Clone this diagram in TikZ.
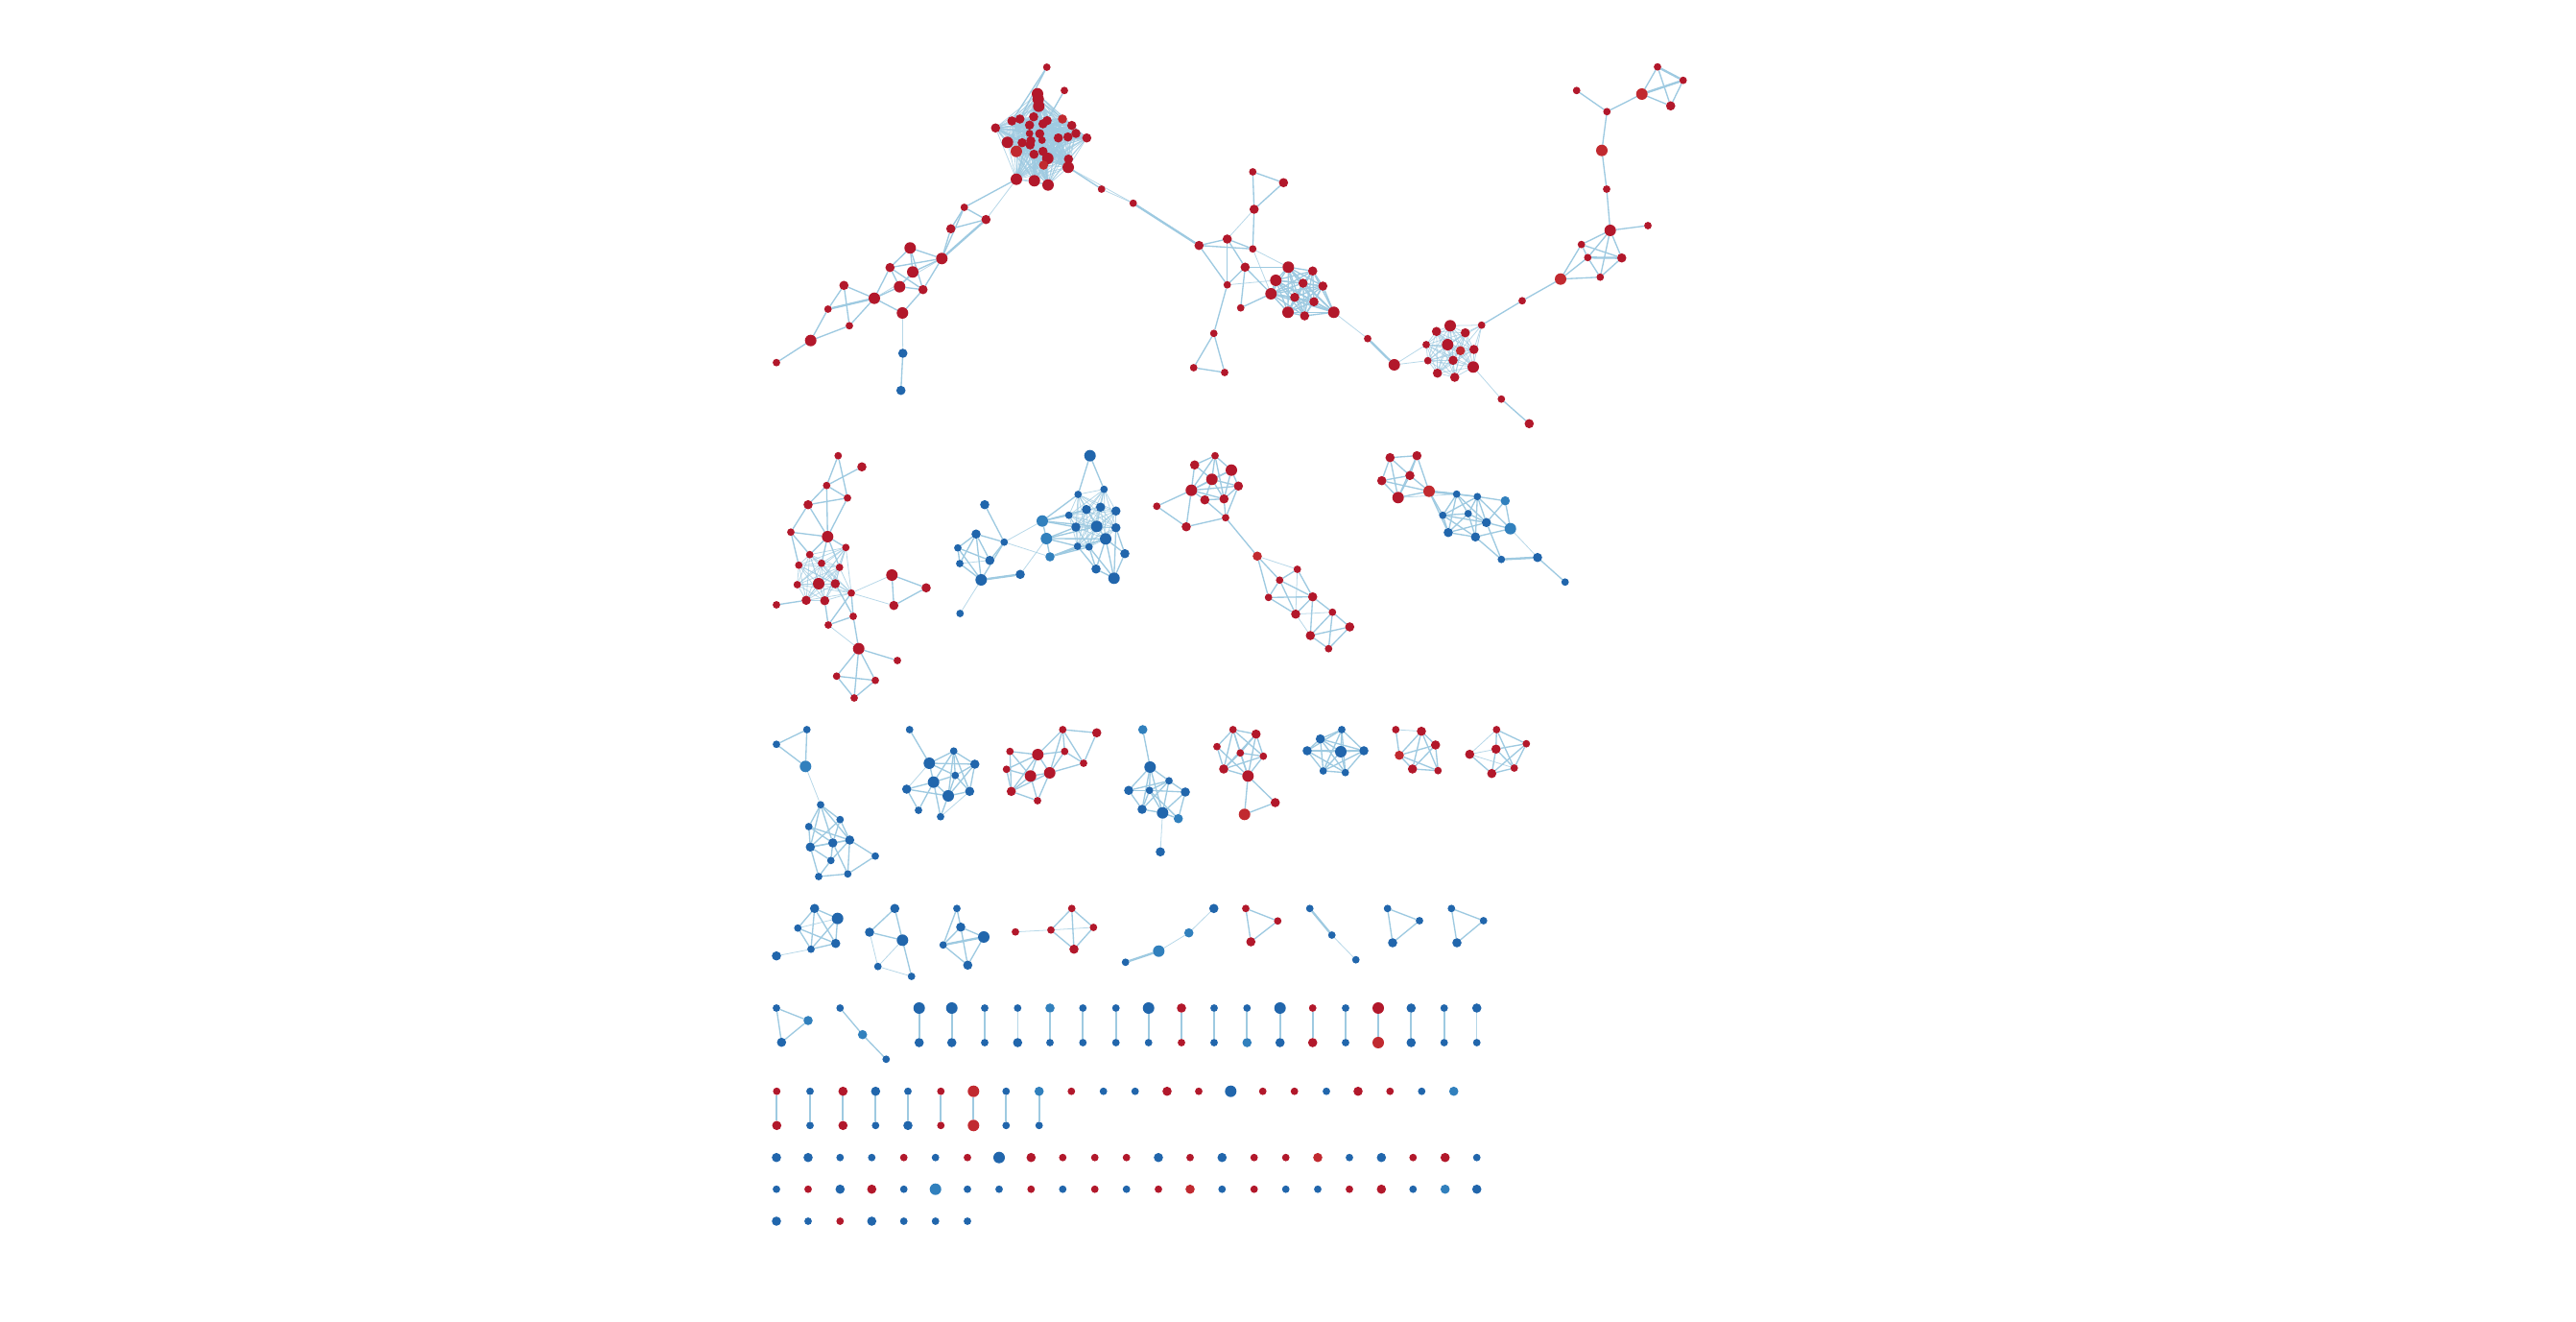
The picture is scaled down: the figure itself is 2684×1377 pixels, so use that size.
\documentclass[tikz,border=0pt]{standalone}
\usetikzlibrary{backgrounds}
\pgfdeclarelayer{bottom}
\pgfsetlayers{bottom,background,main}
\definecolor{cR}{RGB}{178,24,43}
\definecolor{cRl}{RGB}{193,42,48}
\definecolor{cB}{RGB}{33,102,172}
\definecolor{cBl}{RGB}{49,128,189}
\definecolor{cE}{RGB}{158,202,225}
\newcommand\lk[2][lnk]{\foreach \u/\v in {#2}{\draw[#1] (\u) -- (\v);}}
\newcommand\cliq[2][lnk]{\foreach \u [count=\i] in {#2}{\foreach \v [count=\j] in {#2}{\ifnum\j>\i\relax\draw[#1] (\u) -- (\v);\fi}}}
\begin{document}
\begin{tikzpicture}[x=0.01cm,y=-0.01cm,
 nd/.style={circle,inner sep=0pt,outer sep=0pt,draw=none},
 rS/.style={nd,fill=cR,minimum size=0.078cm},
 rM/.style={nd,fill=cR,minimum size=0.096cm},
 rL/.style={nd,fill=cR,minimum size=0.12cm},
 rMl/.style={nd,fill=cRl,minimum size=0.096cm},
 rLl/.style={nd,fill=cRl,minimum size=0.12cm},
 bS/.style={nd,fill=cB,minimum size=0.078cm},
 bM/.style={nd,fill=cB,minimum size=0.096cm},
 bL/.style={nd,fill=cB,minimum size=0.12cm},
 bMl/.style={nd,fill=cBl,minimum size=0.096cm},
 bLl/.style={nd,fill=cBl,minimum size=0.12cm},
 lnk/.style={draw=cE,line width=0.38pt},
 lnkt/.style={draw=cE,line width=0.22pt,opacity=0.75},
 lnkk/.style={draw=cE,line width=0.65pt}]
\begin{pgfonlayer}{bottom}
\fill[white] (0,0) rectangle (2684,1377);
\end{pgfonlayer}
\useasboundingbox (0,0) rectangle (2684,1377);
% ---------- main top cluster ----------
\node[rS] (m1) at (1090.7,70) {};
\node[rS] (m2) at (1109,94.3) {};
\node[rL] (m3) at (1081,97.7) {};
\node[rL] (m4) at (1081.7,103.3) {};
\node[rL] (m5) at (1082.3,110.7) {};
\node[rM] (m6) at (1054.3,126) {};
\node[rM] (m7) at (1062.7,124) {};
\node[rM] (m8) at (1077,121.7) {};
\node[rM] (m9) at (1091,125.7) {};
\node[rMl] (m10) at (1107,124) {};
\node[rM] (m11) at (1116.7,130.7) {};
\node[rM] (m12) at (1121,139) {};
\node[rM] (m13) at (1132.3,143.7) {};
\node[rM] (m14) at (1037.3,133.3) {};
\node[rM] (m15) at (1072.7,130.3) {};
\node[rM] (m16) at (1086.7,129) {};
\node[rS] (m17) at (1072.7,139) {};
\node[rM] (m18) at (1083.3,139.3) {};
\node[rM] (m19) at (1102.7,143.7) {};
\node[rM] (m20) at (1112.7,142.7) {};
\node[rL] (m21) at (1049.7,148.3) {};
\node[rM] (m22) at (1065,148.7) {};
\node[rM] (m23) at (1074,146.7) {};
\node[rM] (m24) at (1073.3,151) {};
\node[rS] (m25) at (1085.7,146) {};
\node[rLl] (m26) at (1059,157.7) {};
\node[rM] (m27) at (1077.3,160.7) {};
\node[rM] (m28) at (1086.7,157.7) {};
\node[rL] (m29) at (1091.7,165) {};
\node[rMl] (m30) at (1087.3,172) {};
\node[rM] (m31) at (1113.3,165.7) {};
\node[rL] (m32) at (1113,174.3) {};
\node[rL] (m33) at (1059,186.7) {};
\node[rL] (m34) at (1077.7,188.3) {};
\node[rL] (m35) at (1092,192.7) {};
% left chain
\node[rS] (l1) at (1004.7,216) {};
\node[rM] (l2) at (1027.3,228.7) {};
\node[rM] (l3) at (990.7,238.3) {};
\node[rL] (l4) at (981.3,269.3) {};
\node[rL] (l5) at (948.3,258.3) {};
\node[rM] (l6) at (927.3,278.7) {};
\node[rL] (l7) at (951,283.3) {};
\node[rL] (l8) at (937.3,298.7) {};
\node[rM] (l9) at (961.7,301.7) {};
\node[rL] (l10) at (911,310.7) {};
\node[rL] (l11) at (940.3,326) {};
\node[rM] (l12) at (879.3,297.3) {};
\node[rS] (l13) at (862.7,322) {};
\node[rS] (l14) at (885,339.3) {};
\node[rL] (l15) at (844.7,354.7) {};
\node[rS] (l16) at (809,377.7) {};
\node[bM] (l17) at (940.7,368) {};
\node[bM] (l18) at (938.7,406.7) {};
% right chain
\node[rS] (r1) at (1147.7,197) {};
\node[rS] (r2) at (1180.7,211.7) {};
\node[rM] (r3) at (1249.3,255.7) {};
\node[rM] (r4) at (1278.7,249) {};
\node[rS] (r5) at (1305.3,179) {};
\node[rM] (r6) at (1337.3,190.3) {};
\node[rM] (r7) at (1306.7,218) {};
\node[rS] (r8) at (1305.3,259.3) {};
\node[rM] (r9) at (1297.3,278.3) {};
\node[rS] (r10) at (1278.7,296.7) {};
\node[rS] (r11) at (1292.7,320.7) {};
\node[rS] (r12) at (1264.7,347.3) {};
\node[rS] (r13) at (1243.7,383) {};
\node[rS] (r14) at (1276,388) {};
\node[rL] (c1) at (1342.3,278.3) {};
\node[rM] (c2) at (1367.7,282.3) {};
\node[rL] (c3) at (1329.3,292) {};
\node[rM] (c4) at (1357.7,295) {};
\node[rM] (c5) at (1378.3,298) {};
\node[rL] (c6) at (1324.3,306) {};
\node[rM] (c7) at (1349,309.7) {};
\node[rM] (c8) at (1369,314.3) {};
\node[rL] (c9) at (1342,325.3) {};
\node[rM] (c10) at (1359.3,329) {};
\node[rL] (c11) at (1389.7,325.3) {};
\node[rS] (r15) at (1425,352.7) {};
\node[rL] (r16) at (1452.7,380) {};
% cluster K
\node[rM] (k1) at (1496.7,345.3) {};
\node[rL] (k2) at (1511,339.3) {};
\node[rM] (k3) at (1526.7,346.7) {};
\node[rS] (k4) at (1486,359) {};
\node[rL] (k5) at (1508.3,359) {};
\node[rMl] (k6) at (1521.7,365.3) {};
\node[rM] (k7) at (1535.7,364) {};
\node[rS] (k8) at (1487.7,375.7) {};
\node[rM] (k9) at (1514,375.3) {};
\node[rL] (k10) at (1535,382.3) {};
\node[rM] (k11) at (1497.7,388.7) {};
\node[rM] (k12) at (1515.7,393) {};
\node[rS] (k13) at (1543.7,338.7) {};
\node[rS] (k14) at (1564.3,415.7) {};
\node[rM] (k15) at (1593.3,441.3) {};
% top right
\node[rS] (t1) at (1586,313.3) {};
\node[rLl] (t2) at (1626,290.7) {};
\node[rS] (t3) at (1647.7,254.7) {};
\node[rL] (t4) at (1677.7,240) {};
\node[rS] (t5) at (1717,235) {};
\node[rS] (t6) at (1654.3,268.3) {};
\node[rM] (t7) at (1689.7,268.7) {};
\node[rS] (t8) at (1667.3,288.7) {};
\node[rS] (t9) at (1674,197) {};
\node[rLl] (t10) at (1669,156.7) {};
\node[rS] (t11) at (1674.3,116.3) {};
\node[rS] (t12) at (1642.7,94.3) {};
\node[rLl] (t13) at (1710.7,98) {};
\node[rS] (t14) at (1727,69.7) {};
\node[rS] (t15) at (1753.7,83.7) {};
\node[rM] (t16) at (1740.7,110.3) {};
% ---------- row 2 ----------
\node[rS] (a1) at (873.3,474.7) {};
\node[rM] (a2) at (898,486.3) {};
\node[rS] (a3) at (861.3,505.7) {};
\node[rS] (a4) at (883,518.7) {};
\node[rM] (a5) at (842,525.7) {};
\node[rS] (a6) at (824,554.3) {};
\node[rL] (a7) at (862.3,559) {};
\node[rS] (a8) at (881.3,570.3) {};
\node[rS] (a9) at (843.7,577.7) {};
\node[rS] (a10) at (832.3,588.7) {};
\node[rS] (a11) at (856,586.7) {};
\node[rS] (a12) at (874.7,591) {};
\node[rS] (a13) at (830.7,609) {};
\node[rL] (a14) at (853,608) {};
\node[rM] (a15) at (870.3,608) {};
\node[rS] (a16) at (887,617.7) {};
\node[rS] (a17) at (809,630) {};
\node[rM] (a18) at (840,625.3) {};
\node[rM] (a19) at (859.3,625.7) {};
\node[rS] (a20) at (889,642) {};
\node[rS] (a21) at (863,651) {};
\node[rL] (a22) at (929.3,599) {};
\node[rM] (a23) at (965,612.3) {};
\node[rM] (a24) at (931.3,630.7) {};
\node[rL] (a25) at (894.7,675.7) {};
\node[rS] (a26) at (935,688) {};
\node[rS] (a27) at (871.7,704.3) {};
\node[rS] (a28) at (912,708.7) {};
\node[rS] (a29) at (890,727) {};
\node[bM] (b1) at (1026,525.7) {};
\node[bM] (b2) at (1017,556.3) {};
\node[bS] (b3) at (998,570.7) {};
\node[bS] (b4) at (1046.3,564.7) {};
\node[bS] (b5) at (1000,587) {};
\node[bM] (b6) at (1031.3,583.7) {};
\node[bL] (b7) at (1022.3,604) {};
\node[bM] (b8) at (1063,598.3) {};
\node[bS] (b9) at (1000.3,639) {};
\node[bL] (B1) at (1135.7,474.7) {};
\node[bS] (B2) at (1123.3,515) {};
\node[bS] (B3) at (1150.3,509.7) {};
\node[bM] (B4) at (1132,530.7) {};
\node[bM] (B5) at (1146.7,528.3) {};
\node[bM] (B6) at (1162.7,532.3) {};
\node[bM] (B7) at (1121,549) {};
\node[bS] (B8) at (1113.7,536.7) {};
\node[bL] (B9) at (1142.7,548.3) {};
\node[bM] (B10) at (1162.7,549.7) {};
\node[bL] (B11) at (1152,561.3) {};
\node[bS] (B12) at (1122.7,569) {};
\node[bS] (B13) at (1134.7,569.7) {};
\node[bM] (B14) at (1172,576.7) {};
\node[bM] (B15) at (1142,592.7) {};
\node[bL] (B16) at (1160.7,602.3) {};
\node[bLl] (B17) at (1086,542.7) {};
\node[bLl] (B18) at (1090.3,561) {};
\node[bMl] (B19) at (1094,580) {};
\node[rS] (p1) at (1266,474.7) {};
\node[rM] (p2) at (1244.7,484.3) {};
\node[rL] (p3) at (1283,489.7) {};
\node[rL] (p4) at (1262.7,499.3) {};
\node[rM] (p5) at (1290.3,506.3) {};
\node[rL] (p6) at (1241.3,510.7) {};
\node[rM] (p7) at (1255.3,520.7) {};
\node[rM] (p8) at (1275.3,519.7) {};
\node[rS] (p9) at (1205.3,527.3) {};
\node[rS] (p10) at (1277,539.3) {};
\node[rM] (p11) at (1236,548.7) {};
\node[rMl] (p12) at (1310,579.3) {};
\node[rS] (p13) at (1351.7,593) {};
\node[rS] (p14) at (1333.3,604.3) {};
\node[rS] (p15) at (1321.7,622.3) {};
\node[rM] (p16) at (1367.7,621.7) {};
\node[rM] (p17) at (1350,639.7) {};
\node[rS] (p18) at (1388.3,637.7) {};
\node[rM] (p19) at (1406.3,653) {};
\node[rM] (p20) at (1365.3,662) {};
\node[rS] (p21) at (1384.3,675.7) {};
\node[rM] (q1) at (1448.3,476.7) {};
\node[rM] (q2) at (1439.7,500.7) {};
\node[rL] (q3) at (1456.7,518.3) {};
\node[rM] (q4) at (1476.3,474.7) {};
\node[rM] (q5) at (1469,495.3) {};
\node[rLl] (q6) at (1489,511.7) {};
\node[bS] (q7) at (1517.7,514.7) {};
\node[bS] (q8) at (1539.3,517.3) {};
\node[bMl] (q9) at (1568.3,521.7) {};
\node[bS] (q10) at (1503.3,536.7) {};
\node[bS] (q11) at (1529.7,535) {};
\node[bM] (q12) at (1548.7,544.3) {};
\node[bLl] (q13) at (1573.7,550.7) {};
\node[bM] (q14) at (1509,554.7) {};
\node[bM] (q15) at (1537.3,559.3) {};
\node[bS] (q16) at (1564.3,582.7) {};
\node[bM] (q17) at (1602,580.7) {};
\node[bS] (q18) at (1630.7,606.3) {};
% ---------- row 3 ----------
\node[bS] (d1) at (840.7,760) {};
\node[bS] (d2) at (809,775.3) {};
\node[bLl] (d3) at (839.3,798.3) {};
\node[bS] (d4) at (855,838.3) {};
\node[bS] (d5) at (875.3,853.7) {};
\node[bS] (d6) at (842.7,861) {};
\node[bM] (d7) at (885.3,875) {};
\node[bM] (d8) at (867.7,878) {};
\node[bM] (d9) at (844.3,882.3) {};
\node[bS] (d10) at (912,891.7) {};
\node[bS] (d11) at (865.7,896.3) {};
\node[bS] (d12) at (853,913) {};
\node[bS] (d13) at (883.3,910.3) {};
\node[bS] (e1) at (947.7,760) {};
\node[bL] (e2) at (968.3,795) {};
\node[bS] (e3) at (993.7,782.3) {};
\node[bM] (e4) at (1015.7,796) {};
\node[bS] (e5) at (995.3,807.7) {};
\node[bL] (e6) at (972.7,814.7) {};
\node[bM] (e7) at (944.7,822) {};
\node[bM] (e8) at (1010.3,824.3) {};
\node[bL] (e9) at (988,829) {};
\node[bS] (e10) at (957,844) {};
\node[bS] (e11) at (980,850.7) {};
\node[rS] (f1) at (1052.3,782.7) {};
\node[rL] (f2) at (1081.3,786) {};
\node[rS] (f3) at (1107.3,760) {};
\node[rS] (f4) at (1109.3,782.7) {};
\node[rS] (f5) at (1048.7,801.3) {};
\node[rL] (f6) at (1073.7,808.3) {};
\node[rL] (f7) at (1093.7,805) {};
\node[rM] (f8) at (1053.7,824.3) {};
\node[rS] (f9) at (1081,834) {};
\node[rS] (f10) at (1129,795) {};
\node[rM] (f11) at (1142.7,763.3) {};
\node[bMl] (g1) at (1190.7,760) {};
\node[bL] (g2) at (1198.3,799) {};
\node[bS] (g3) at (1218,813.3) {};
\node[bM] (g4) at (1176,823.3) {};
\node[bS] (g5) at (1197.7,823.3) {};
\node[bM] (g6) at (1235,825) {};
\node[bM] (g7) at (1190,843) {};
\node[bL] (g8) at (1211.3,846.7) {};
\node[bMl] (g9) at (1227.7,852.7) {};
\node[bM] (g10) at (1209,887.3) {};
\node[rS] (h1) at (1284.7,760) {};
\node[rM] (h2) at (1308.7,764.7) {};
\node[rS] (h3) at (1268,777.7) {};
\node[rS] (h4) at (1292.3,784.3) {};
\node[rS] (h5) at (1316.3,787.7) {};
\node[rM] (h6) at (1275,801) {};
\node[rL] (h7) at (1300.3,808.3) {};
\node[rM] (h8) at (1328.7,836) {};
\node[rLl] (h9) at (1296.7,848.3) {};
\node[bS] (i1) at (1398,760) {};
\node[bM] (i2) at (1375.7,769.7) {};
\node[bM] (i3) at (1362,782) {};
\node[bL] (i4) at (1397,783) {};
\node[bM] (i5) at (1421,782) {};
\node[bS] (i6) at (1378.7,803) {};
\node[bS] (i7) at (1401.7,804.7) {};
\node[rS] (j1) at (1454.3,760) {};
\node[rM] (j2) at (1481,761.7) {};
\node[rM] (j3) at (1495.7,776) {};
\node[rMl] (j4) at (1458,786.7) {};
\node[rM] (j5) at (1471.7,801) {};
\node[rS] (j6) at (1498.3,802.7) {};
\node[rS] (n1) at (1559.3,760) {};
\node[rM] (n2) at (1531.3,785.7) {};
\node[rM] (n3) at (1558.7,780.3) {};
\node[rS] (n4) at (1590.3,774.7) {};
\node[rM] (n5) at (1554.3,805.7) {};
\node[rS] (n6) at (1577.7,800) {};
% ---------- row 4 ----------
\node[bM] (A1) at (848.7,946.3) {};
\node[bL] (A2) at (872.7,956.7) {};
\node[bS] (A3) at (831.3,966.7) {};
\node[bM] (A4) at (870.7,982.7) {};
\node[bS] (A5) at (845,988.7) {};
\node[bM] (A6) at (809,995.7) {};
\node[bM] (Bb1) at (932.3,946.3) {};
\node[bM] (Bb2) at (906,971) {};
\node[bL] (Bb3) at (940.3,979.3) {};
\node[bS] (Bb4) at (914.7,1006.7) {};
\node[bS] (Bb5) at (949.7,1017) {};
\node[bS] (C1) at (997,946.3) {};
\node[bM] (C2) at (1001,965.7) {};
\node[bL] (C3) at (1025,976) {};
\node[bS] (C4) at (982.7,984.3) {};
\node[bM] (C5) at (1008.3,1005.3) {};
\node[rS] (D0) at (1058,970.7) {};
\node[rS] (D1) at (1095,968.7) {};
\node[rS] (D2) at (1116.7,946.3) {};
\node[rS] (D3) at (1139.3,966) {};
\node[rM] (D4) at (1119,988.7) {};
\node[bS] (E1) at (1172.7,1002.3) {};
\node[bLl] (E2) at (1207.3,990.7) {};
\node[bMl] (E3) at (1238.7,971.7) {};
\node[bM] (E4) at (1264.7,946.3) {};
\node[rS] (F1) at (1298,946.3) {};
\node[rS] (F2) at (1331.3,959.3) {};
\node[rM] (F3) at (1303.3,981) {};
\node[bS] (G1) at (1364.7,946.3) {};
\node[bS] (G2) at (1387.7,974) {};
\node[bS] (G3) at (1412.7,999.7) {};
\node[bS] (H1) at (1445.7,946.3) {};
\node[bS] (H2) at (1479,959) {};
\node[bM] (H3) at (1451,982) {};
\node[bS] (I1) at (1512.3,946.3) {};
\node[bS] (I2) at (1545.7,959) {};
\node[bM] (I3) at (1518,982) {};
% ---------- row 5 ----------
\node[bS] (u1) at (809,1050) {};
\node[bMl] (u2) at (842,1063) {};
\node[bM] (u3) at (814.3,1085.7) {};
\node[bS] (v1) at (875.3,1050) {};
\node[bMl] (v2) at (898.7,1077.7) {};
\node[bS] (v3) at (923.3,1103.3) {};
\foreach \x/\st/\sb/\ls [count=\k] in {957.7/bL/bM/lnkk, 991.7/bL/bM/lnkk, 1026/bS/bS/lnkk, 1060.3/bS/bM/lnkt, 1094/bMl/bS/lnkk, 1128.3/bS/bS/lnkk, 1162.7/bS/bS/lnkk, 1196.7/bL/bS/lnkk, 1231/rM/rS/lnkk, 1265/bS/bS/lnkk, 1299.3/bS/bMl/lnkk, 1333.7/bL/bM/lnkk, 1367.7/rS/rM/lnkk, 1402/bS/bS/lnkk, 1436/rL/rLl/lnkk, 1470.3/bM/bM/lnkk, 1504.7/bS/bS/lnkk, 1538.7/bM/bS/lnkt}{
  \node[\st] (pa\k) at (\x,1050) {};
  \node[\sb] (pb\k) at (\x,1086) {};
  \begin{scope}[on background layer]\draw[\ls] (pa\k) -- (pb\k);\end{scope}
}
\foreach \x/\st/\sb/\ls [count=\k] in {809.3/rS/rM/lnkk, 844/bS/bS/lnkk, 878.3/rM/rM/lnkk, 912.3/bM/bS/lnkk, 946/bS/bM/lnkk, 980.3/rS/rS/lnkk, 1014.3/rLl/rLl/lnkk, 1048.3/bS/bS/lnkk, 1082.7/bMl/bS/lnkk}{
  \node[\st] (qa\k) at (\x,1136.7) {};
  \node[\sb] (qb\k) at (\x,1172.3) {};
  \begin{scope}[on background layer]\draw[\ls] (qa\k) -- (qb\k);\end{scope}
}
\foreach \x/\s [count=\k] in {1116.3/rS, 1149.7/bS, 1182.7/bS, 1216/rM, 1249/rS, 1282.3/bL, 1315.7/rS, 1348.7/rS, 1382/bS, 1415/rM, 1448.3/rS, 1481.3/bS, 1514.7/bMl}
  \node[\s] (sa\k) at (\x,1136.7) {};
\foreach \x/\s [count=\k] in {809/bM, 842/bM, 875.3/bS, 908.3/bS, 941.7/rS, 974.7/bS, 1008/rS, 1041/bL, 1074.3/rM, 1107.3/rS, 1140.7/rS, 1173.7/rS, 1207/bM, 1240/rS, 1273.3/bM, 1306.7/rS, 1339.7/rS, 1373/rMl, 1406/bS, 1439.3/bM, 1472.3/rS, 1505.7/rM, 1538.7/bS}
  \node[\s] (sb\k) at (\x,1205.7) {};
\foreach \x/\s [count=\k] in {809/bS, 842/rS, 875.3/bM, 908.3/rM, 941.7/bS, 974.7/bLl, 1008/bS, 1041/bS, 1074.3/rS, 1107.3/bS, 1140.7/rS, 1173.7/bS, 1207/rS, 1240/rMl, 1273.3/bS, 1306.7/rS, 1339.7/bS, 1373/bS, 1406/rS, 1439.3/rM, 1472.3/bS, 1505.7/bMl, 1538.7/bM}
  \node[\s] (sc\k) at (\x,1238.7) {};
\foreach \x/\s [count=\k] in {809/bM, 842/bS, 875.3/rS, 908.3/bM, 941.7/bS, 974.7/bS, 1008/bS}
  \node[\s] (sd\k) at (\x,1272) {};
% ---------- edges ----------
\begin{scope}[on background layer]
\cliq[lnkt]{m3,m4,m5,m6,m7,m8,m9,m10,m11,m12,m13,m14,m15,m16,m17,m18,m19,m20,m21,m22,m23,m24,m25,m26,m27,m28,m29,m30,m31,m32,m33,m34,m35}
\lk{m1/m6, m1/m7, m2/m9}
\lk{m33/l1, l1/l2, l1/l3, l1/l4, l3/l2, l3/l4, l4/l5, l4/l6, l4/l7, l4/l9, l5/l6, l5/l7, l5/l9, l6/l8, l6/l9, l6/l10, l7/l8, l8/l9, l8/l10, l9/l11, l10/l11, l10/l12, l10/l14, l12/l13, l12/l14, l13/l15, l14/l15, l15/l16, l17/l18}
\lk[lnkk]{l2/l4, l10/l13}
\lk[lnkt]{m33/l2, l4/l10, l11/l17}
\lk{m32/r1, r2/r3, r3/r4, r3/r8, r3/r10, r4/r8, r4/r9, r4/r10, r5/r6, r5/r7, r6/r7, r7/r8, r9/r10, r9/c1, r9/c6, r9/r11, r10/r12, r11/c6, r12/r13, r12/r14, r13/r14}
\lk[lnkt]{m32/r2, r1/r2, r4/r7, r8/c6, r8/c1, r10/c3, c11/r15, r16/k4, r16/k8}
\lk[lnkk]{r2/r3, r15/r16}
\cliq{c1,c2,c3,c4,c5,c6,c7,c8,c9,c10,c11}
\cliq[lnkt]{k1,k2,k3,k4,k5,k6,k7,k8,k9,k10,k11,k12}
\lk[lnkt]{k13/k2, k13/k3, k13/k5, k13/k6, k13/k7, k13/k10, k10/k14}
\lk{k14/k15, k13/t1, t1/t2, t2/t3, t2/t6, t2/t8, t3/t4, t3/t6, t3/t7, t6/t8, t6/t4, t4/t7, t4/t8, t8/t7, t4/t5, t4/t9, t9/t10, t10/t11, t11/t12, t11/t13, t13/t14, t13/t15, t13/t16, t14/t16, t15/t16}
\lk[lnkk]{t6/t7, t14/t15, t13/t15}
% row 2
\lk{a1/a3, a1/a4, a2/a3, a3/a4, a3/a5, a3/a7, a5/a4, a4/a7, a5/a6, a5/a7, a6/a7, a6/a10, a6/a9, a7/a9, a7/a8, a7/a11, a7/a12, a17/a18, a16/a20, a16/a21, a19/a21, a15/a20, a20/a21, a22/a24, a22/a23, a24/a23, a20/a25, a25/a26, a25/a27, a25/a28, a25/a29, a27/a28, a27/a29, a28/a29}
\lk[lnkt]{a16/a22, a16/a24, a21/a25}
\cliq[lnkt]{a8,a9,a10,a11,a12,a13,a14,a15,a16,a18,a19}
\lk{b1/b4, b2/b3, b2/b5, b2/b6, b2/b7, b2/b4, b3/b5, b3/b6, b3/b7, b5/b7, b6/b4, b7/b4, b7/b8}
\lk[lnkk]{b7/b8}
\lk[lnkt]{b7/b9, b4/B17, b4/B19, b8/B18, b5/b6}
\lk{B1/B2, B1/B3}
\cliq[lnkt]{B2,B3,B4,B5,B6,B7,B8,B9,B10,B11,B12,B13}
\lk{B17/B8, B17/B7, B17/B4, B17/B2, B17/B9, B17/B18, B18/B7, B18/B9, B18/B11, B18/B12, B18/B19, B19/B12, B19/B13, B19/B11, B13/B15, B13/B16, B11/B14, B11/B15, B11/B16, B10/B14, B14/B16, B15/B16, B10/B16, B12/B15}
\lk{p1/p2, p1/p3, p1/p4, p1/p6, p1/p8, p2/p4, p2/p6, p3/p4, p3/p5, p3/p6, p3/p8, p4/p5, p4/p6, p4/p7, p4/p8, p5/p8, p5/p10, p6/p7, p6/p8, p6/p9, p6/p11, p6/p5, p7/p8, p7/p10, p8/p10, p9/p11, p11/p10, p10/p12, p12/p14, p12/p15, p14/p13, p14/p15, p14/p16, p14/p17, p13/p16, p15/p16, p15/p17, p16/p17, p16/p18, p16/p20, p18/p19, p18/p20, p19/p20, p18/p21, p19/p21, p20/p21}
\lk[lnkt]{p12/p13, p13/p17, p17/p18, p17/p20}
\lk{q1/q4, q1/q2, q1/q3, q1/q5, q2/q3, q2/q5, q2/q6, q4/q5, q4/q3, q4/q6, q5/q6, q5/q3, q3/q6, q6/q7, q6/q8, q6/q10, q6/q14, q7/q8, q7/q10, q7/q11, q7/q12, q7/q14, q8/q9, q8/q11, q8/q12, q8/q15, q8/q13, q8/q10, q9/q12, q9/q13, q10/q11, q10/q14, q10/q15, q10/q12, q11/q12, q11/q15, q11/q14, q14/q15, q14/q12, q12/q13, q15/q13, q15/q16, q12/q16, q16/q17, q17/q18}
\lk[lnkt]{q3/q7, q13/q17}
\lk[lnkk]{q6/q7, q16/q17}
% row 3
\lk{d1/d2, d1/d3, d2/d3, d4/d5, d4/d6, d4/d7, d4/d8, d4/d9, d5/d7, d5/d9, d5/d8, d6/d7, d6/d9, d6/d8, d7/d8, d7/d9, d7/d10, d7/d13, d7/d11, d8/d9, d8/d13, d8/d11, d9/d11, d9/d12, d11/d12, d12/d13, d13/d10}
\lk[lnkt]{d3/d4}
\lk{e1/e2, e2/e3, e2/e4, e2/e5, e2/e6, e3/e4, e3/e5, e3/e6, e3/e9, e3/e8, e4/e5, e4/e8, e4/e9, e5/e6, e5/e9, e5/e8, e6/e7, e6/e9, e6/e10, e6/e11, e7/e9, e7/e10, e9/e8, e9/e11}
\lk[lnkt]{e2/e7, e8/e11}
\lk{f1/f2, f1/f8, f1/f6, f2/f3, f2/f4, f2/f6, f2/f7, f2/f8, f2/f5, f3/f4, f3/f7, f3/f11, f3/f10, f4/f7, f6/f7, f6/f8, f6/f5, f7/f8, f7/f9, f7/f10, f8/f9, f6/f9, f5/f8, f11/f10, f4/f10}
\lk{g1/g2, g2/g3, g2/g4, g2/g5, g2/g7, g2/g8, g3/g4, g3/g5, g3/g6, g3/g8, g3/g7, g4/g5, g4/g7, g5/g6, g5/g7, g5/g8, g5/g9, g6/g8, g6/g9, g7/g8, g8/g9}
\lk[lnkt]{g8/g10}
\lk{h1/h2, h1/h3, h1/h4, h1/h5, h1/h6, h1/h7, h2/h4, h2/h5, h2/h6, h2/h7, h3/h6, h3/h7, h4/h5, h4/h6, h4/h7, h5/h6, h5/h7, h6/h7, h7/h8, h7/h9, h8/h9}
\cliq{i1,i2,i3,i4,i5,i6,i7}
\lk{j1/j4, j2/j4, j2/j3, j2/j5, j2/j6, j4/j3, j4/j5, j4/j6, j3/j5, j3/j6, j5/j6}
\lk[lnkt]{j1/j2}
\lk{n1/n3, n1/n4, n1/n6, n2/n5, n3/n4, n3/n5, n3/n6, n4/n6, n4/n5, n5/n6}
\lk[lnkt]{n1/n2, n2/n3, n2/n6}
% row 4
\lk{A1/A2, A1/A3, A1/A5, A1/A4, A2/A5, A2/A4, A3/A4, A3/A5, A4/A5}
\lk[lnkt]{A5/A6, A2/A3}
\lk{Bb1/Bb2, Bb1/Bb3, Bb2/Bb3, Bb3/Bb5}
\lk[lnkt]{Bb2/Bb4, Bb3/Bb4, Bb4/Bb5}
\lk{C1/C2, C1/C4, C2/C3, C2/C4, C4/C5, C3/C5, C2/C5}
\lk[lnkk]{C4/C3}
\lk{D1/D2, D1/D4, D2/D3, D2/D4, D4/D3}
\lk[lnkt]{D0/D1, D1/D3}
\lk[lnkk]{E1/E2}
\lk[lnkt]{E2/E3, E3/E4}
\lk{F1/F2, F1/F3, F2/F3}
\lk[lnkk]{G1/G2}
\lk[lnkt]{G2/G3}
\lk{H1/H2, H1/H3, H2/H3, I1/I2, I1/I3, I2/I3}
% row 5
\lk{u1/u2, u1/u3, u2/u3, v1/v2, v2/v3}
\end{scope}
\end{tikzpicture}
\end{document}
